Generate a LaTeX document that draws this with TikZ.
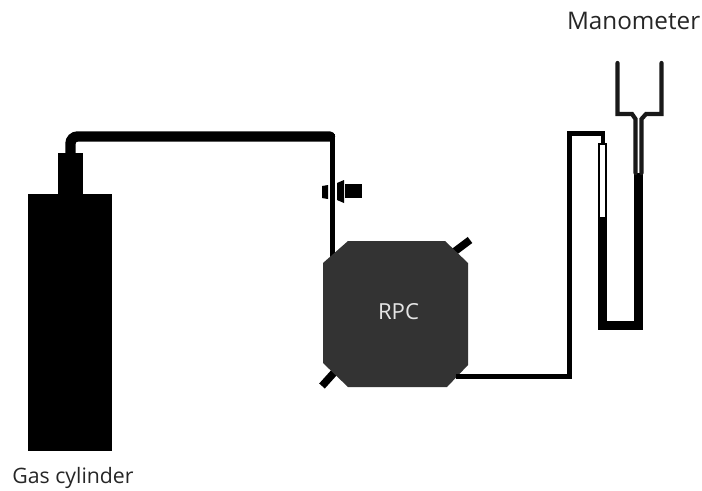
\documentclass[tikz,border=0pt]{standalone}
\usepackage{fontspec}
\setmainfont{Open Sans}
\usepackage{tikz}
\usetikzlibrary{positioning,arrows,shapes}
\definecolor{rpcgrey}{HTML}{333333}
\tikzset{
  solidbox/.style={fill=black, draw=none, inner sep=0pt},
  thickpipe/.style={draw=black, line width=5.9pt, rounded corners=4pt, line cap=round},
  thinpipe/.style={draw=black, line width=2.6pt},
  glasswall/.style={draw=black, line width=1.3pt},
  funnelwall/.style={draw=black!90, line width=2.4pt, line cap=round},
  stub/.style={draw=black, line width=4.3pt},
  label/.style={text=black!85, inner sep=0pt}
}
\begin{document}
\begin{tikzpicture}[x=0.02cm, y=-0.02cm]
  \useasboundingbox (0,0) rectangle (702,490);
  % cylinder and feed line
  \node[solidbox, minimum width=1.68cm, minimum height=5.14cm] (cylinder) at (70,322.5) {};
  \node[solidbox, minimum width=0.5cm, minimum height=0.82cm] (neck) at (70.5,173.5) {};
  \coordinate (feedturn) at (330,136.5);
  \coordinate (feeddrop) at (332.5,134);
  \coordinate (rpcinlet) at (332.5,264);
  \draw[thickpipe] (neck.north) |- (feedturn);
  \draw[thinpipe, line width=2.9pt] (feeddrop) -- (rpcinlet);
  % valve
  \draw[fill=black, draw=none] (322,186) -- (328,185) -- (328,199) -- (322,198) -- cycle;
  \draw[fill=black, draw=none] (337,183) -- (344,180) -- (344,203) -- (337,200) -- cycle;
  \node[solidbox, minimum width=0.34cm, minimum height=0.28cm] (valvehandle) at (353.5,191) {};
  % stubs on the chamber
  \coordinate (stubne) at (470,240);
  \coordinate (stubsw) at (322,386);
  \coordinate (rpcne) at (450,255);
  \coordinate (rpcsw) at (340,366);
  \draw[stub] (rpcne) -- (stubne);
  \draw[stub] (rpcsw) -- (stubsw);
  % chamber
  \fill[rpcgrey] (348,241) -- (445,241) -- (468,263) -- (468,365) -- (447,387)
    -- (348,387) -- (323,363) -- (323,263) -- cycle;
  \node[text=white!90!black, font=\fontsize{12.6}{15}\selectfont, inner sep=0pt] (rpc) at (398.5,312) {RPC};
  % line to manometer
  \coordinate (rpcoutlet) at (456,376.5);
  \coordinate (riser) at (569.5,133.5);
  \coordinate (leftinlet) at (603,145);
  \draw[thinpipe] (rpcoutlet) -- (rpcoutlet -| riser) -- (riser) -- (riser -| leftinlet) -- (leftinlet);
  % manometer, filled part
  \coordinate (leftlevel) at (602.5,217);
  \coordinate (rightlevel) at (638.5,173);
  \coordinate (ubottom) at (620.5,325.5);
  \draw[draw=black, line width=5.1pt] (leftlevel) -- (leftlevel |- ubottom) -- (rightlevel |- ubottom) -- (rightlevel);
  % manometer, empty part
  \draw[glasswall] (599,217) -- (599,144) -- (606,144) -- (606,217);
  \draw[funnelwall] (617.5,63) -- (617.5,114) -- (632,114) -- (635.5,119) -- (635.5,173);
  \draw[funnelwall] (661.5,63) -- (661.5,114) -- (646,114) -- (641.5,119) -- (641.5,173);
  % labels
  \node[label, anchor=east, font=\fontsize{13.8}{16}\selectfont] (manometer) at (700.5,21) {Manometer};
  \node[label, anchor=west, font=\fontsize{12.1}{15}\selectfont] (gascylinder) at (12,478) {Gas cylinder};
\end{tikzpicture}
\end{document}
